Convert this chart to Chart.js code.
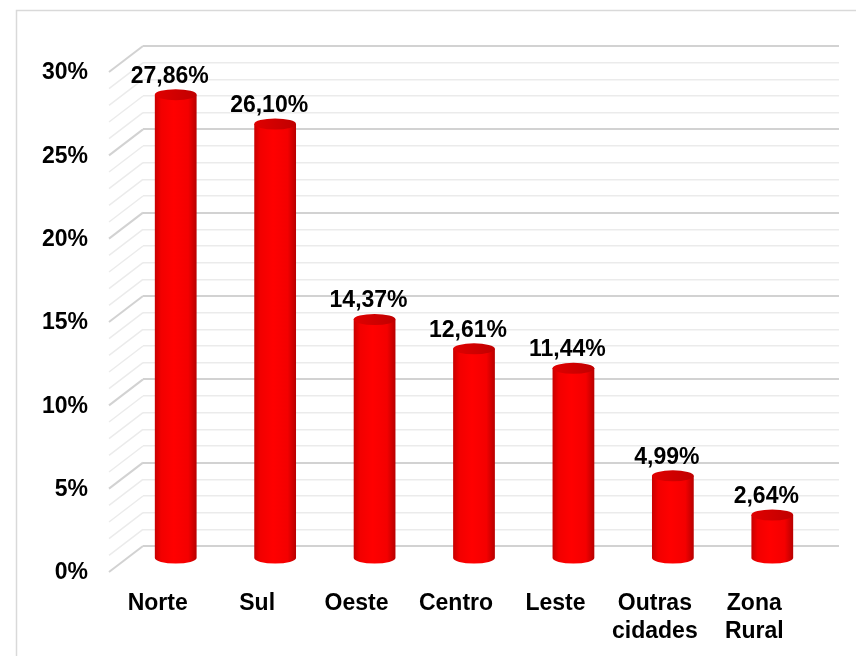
<!DOCTYPE html>
<html>
<head>
<meta charset="utf-8">
<script src="https://cdn.jsdelivr.net/npm/chart.js"></script>
<style>
  html, body { margin: 0; padding: 0; background: #fff; }
  #wrap { width: 856px; height: 656px; position: relative; }
</style>
</head>
<body>
<div id="wrap"><canvas id="chart" width="856" height="656"></canvas></div>
<script>
// data
const categories = ["Norte", "Sul", "Oeste", "Centro", "Leste", ["Outras", "cidades"], ["Zona", "Rural"]];
const percentages = [27.86, 26.10, 14.37, 12.61, 11.44, 4.99, 2.64];
const yTicks = [0, 5, 10, 15, 20, 25, 30];

// 3D depth offsets (back wall -> bar plane -> front plane)
const DX = -17, DY = 13;
const FONT = '"Liberation Sans", Arial, sans-serif';

const fmt = v => v.toFixed(2).replace('.', ',') + '%';

// frame + side wall diagonals
const frame3d = {
  id: 'frame3d',
  beforeDraw(chart) {
    const ctx = chart.ctx;
    ctx.save();
    ctx.strokeStyle = '#d9d9d9';
    ctx.lineWidth = 1.5;
    ctx.beginPath();
    ctx.moveTo(16.5, 660);
    ctx.lineTo(16.5, 10.5);
    ctx.lineTo(860, 10.5);
    ctx.stroke();
    ctx.restore();
  },
  beforeDatasetsDraw(chart) {
    const ctx = chart.ctx, y = chart.scales.y, left = chart.chartArea.left;
    ctx.save();
    y.ticks.forEach(t => {
      const py = y.getPixelForValue(t.value);
      const major = t.value % 5 === 0;
      ctx.strokeStyle = major ? '#d2d2d2' : '#ebebeb';
      ctx.lineWidth = major ? 2 : 1.5;
      ctx.beginPath();
      ctx.moveTo(left, py);
      ctx.lineTo(left + 2 * DX, py + 2 * DY);
      ctx.stroke();
    });
    ctx.restore();
  }
};

// cylinders drawn from the bar elements
const cylinders = {
  id: 'cylinders',
  afterDatasetsDraw(chart) {
    const ctx = chart.ctx;
    const meta = chart.getDatasetMeta(0);
    ctx.save();
    meta.data.forEach((bar, i) => {
      const w = bar.width, cx = bar.x + DX, top = bar.y + DY, base = bar.base + DY;
      const l = cx - w / 2, r = cx + w / 2, ry = 5.5;

      const g = ctx.createLinearGradient(l, 0, r, 0);
      g.addColorStop(0, '#c80000');
      g.addColorStop(0.15, '#f20000');
      g.addColorStop(0.45, '#ff0000');
      g.addColorStop(0.8, '#f40000');
      g.addColorStop(1, '#b80000');
      ctx.fillStyle = g;
      ctx.beginPath();
      ctx.moveTo(l, top);
      ctx.lineTo(l, base);
      ctx.ellipse(cx, base, w / 2, ry, 0, Math.PI, 0, true);
      ctx.lineTo(r, top);
      ctx.closePath();
      ctx.fill();

      const gt = ctx.createLinearGradient(l, 0, r, 0);
      gt.addColorStop(0, '#e00000');
      gt.addColorStop(0.5, '#d00000');
      gt.addColorStop(1, '#c00000');
      ctx.fillStyle = gt;
      ctx.beginPath();
      ctx.ellipse(cx, top, w / 2, ry, 0, 0, Math.PI * 2);
      ctx.fill();

      ctx.fillStyle = '#000';
      ctx.font = 'bold 23px ' + FONT;
      ctx.textAlign = 'center';
      ctx.textBaseline = 'middle';
      ctx.fillText(fmt(percentages[i]), cx - 6, top - ry - 13);
    });
    ctx.restore();
  }
};

new Chart(document.getElementById('chart'), {
  type: 'bar',
  data: {
    labels: categories,
    datasets: [{
      data: percentages,
      backgroundColor: 'rgba(0,0,0,0)',
      borderWidth: 0,
      categoryPercentage: 1,
      barPercentage: 0.42
    }]
  },
  options: {
    responsive: false,
    animation: false,
    layout: { padding: { top: 46, right: 17, left: 0, bottom: 0 } },
    plugins: { legend: { display: false }, tooltip: { enabled: false } },
    scales: {
      x: {
        grid: { display: false },
        border: { display: false },
        afterFit(s) { s.height = 110; s.paddingLeft = 0; s.paddingRight = 0; },
        ticks: {
          color: '#000',
          font: { family: FONT, size: 23, weight: 'bold' },
          padding: 36,
          labelOffset: 2 * DX - 1,
          maxRotation: 0, autoSkip: false
        }
      },
      y: {
        min: 0, max: 30,
        afterFit(s) { s.width = 143; s.paddingTop = 0; s.paddingBottom = 0; },
        border: { display: false },
        grid: {
          drawTicks: false,
          color: c => c.tick.value % 5 === 0 ? '#d2d2d2' : '#ebebeb',
          lineWidth: c => c.tick.value % 5 === 0 ? 2 : 1.5
        },
        ticks: {
          stepSize: 1,
          autoSkip: false,
          color: '#000',
          font: { family: FONT, size: 23, weight: 'bold' },
          padding: 55,
          labelOffset: 2 * DY + 1,
          callback: v => yTicks.includes(v) ? v + '%' : ''
        }
      }
    }
  },
  plugins: [frame3d, cylinders]
});
</script>
</body>
</html>
